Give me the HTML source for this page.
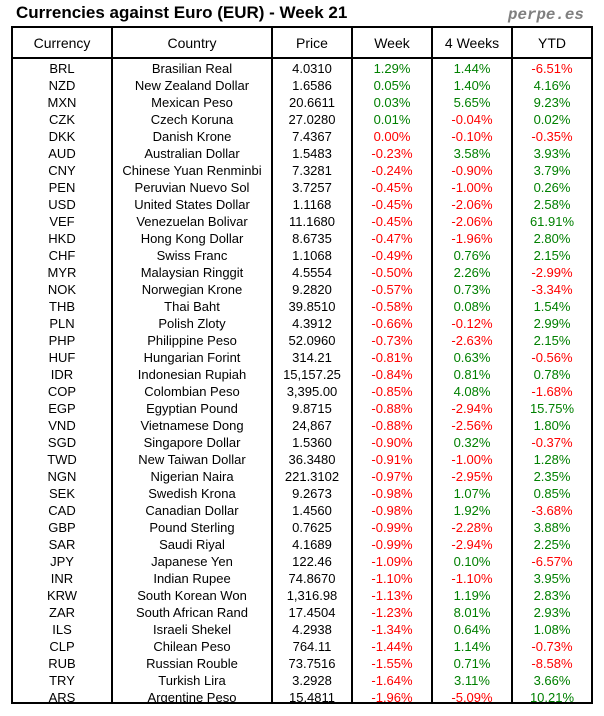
<!DOCTYPE html>
<html>
<head>
<meta charset="utf-8">
<style>
  html,body{margin:0;padding:0;background:#fff;}
  #c{position:relative;width:604px;height:716px;overflow:hidden;background:#fff;font-family:"Liberation Sans",Arial,sans-serif;color:#000;}
  .title{position:absolute;left:16px;top:3px;font-size:17px;font-weight:bold;line-height:20px;white-space:nowrap;}
  .brand{position:absolute;left:508px;top:4.5px;font-family:"Liberation Mono",monospace;font-weight:bold;font-style:italic;font-size:15.8px;line-height:20px;color:#7f7f7f;white-space:nowrap;}
  .ln{position:absolute;background:#000;z-index:5;}
  .hdr{position:absolute;top:28.7px;left:0;width:604px;height:29px;line-height:29px;font-size:14px;}
  .hdr span,.r span{position:absolute;top:0;text-align:center;white-space:nowrap;}
  .c1{left:13px;width:98px}
  .c2{left:113px;width:158px}
  .c3{left:273px;width:78px}
  .c4{left:353px;width:78px}
  .c5{left:433px;width:78px}
  .c6{left:513px;width:78px}
  #rows{position:absolute;left:0;top:59.6px;width:604px;}
  .r{position:relative;height:17px;line-height:17px;font-size:13px;}
  .g{color:#008000}
  .n{color:#ff0000}
</style>
</head>
<body>
<div id="c">
  <div class="title">Currencies against Euro (EUR) - Week 21</div>
  <div class="brand">perpe.es</div>

  <!-- borders -->
  <div class="ln" style="left:11px;top:26px;width:582px;height:2px"></div>
  <div class="ln" style="left:11px;top:702px;width:582px;height:2px"></div>
  <div class="ln" style="left:11px;top:57px;width:582px;height:2px"></div>
  <div class="ln" style="left:11px;top:26px;width:2px;height:678px"></div>
  <div class="ln" style="left:591px;top:26px;width:2px;height:678px"></div>
  <div class="ln" style="left:111px;top:26px;width:2px;height:678px"></div>
  <div class="ln" style="left:271px;top:26px;width:2px;height:678px"></div>
  <div class="ln" style="left:351px;top:26px;width:2px;height:678px"></div>
  <div class="ln" style="left:431px;top:26px;width:2px;height:678px"></div>
  <div class="ln" style="left:511px;top:26px;width:2px;height:678px"></div>
  <div class="ln" style="left:0;top:704px;width:604px;height:12px;background:#fff"></div>

  <div class="hdr">
    <span class="c1">Currency</span><span class="c2">Country</span><span class="c3">Price</span><span class="c4">Week</span><span class="c5">4 Weeks</span><span class="c6">YTD</span>
  </div>

  <div id="rows">
    <div class="r"><span class="c1">BRL</span><span class="c2">Brasilian Real</span><span class="c3">4.0310</span><span class="c4 g">1.29%</span><span class="c5 g">1.44%</span><span class="c6 n">-6.51%</span></div>
    <div class="r"><span class="c1">NZD</span><span class="c2">New Zealand Dollar</span><span class="c3">1.6586</span><span class="c4 g">0.05%</span><span class="c5 g">1.40%</span><span class="c6 g">4.16%</span></div>
    <div class="r"><span class="c1">MXN</span><span class="c2">Mexican Peso</span><span class="c3">20.6611</span><span class="c4 g">0.03%</span><span class="c5 g">5.65%</span><span class="c6 g">9.23%</span></div>
    <div class="r"><span class="c1">CZK</span><span class="c2">Czech Koruna</span><span class="c3">27.0280</span><span class="c4 g">0.01%</span><span class="c5 n">-0.04%</span><span class="c6 g">0.02%</span></div>
    <div class="r"><span class="c1">DKK</span><span class="c2">Danish Krone</span><span class="c3">7.4367</span><span class="c4 n">0.00%</span><span class="c5 n">-0.10%</span><span class="c6 n">-0.35%</span></div>
    <div class="r"><span class="c1">AUD</span><span class="c2">Australian Dollar</span><span class="c3">1.5483</span><span class="c4 n">-0.23%</span><span class="c5 g">3.58%</span><span class="c6 g">3.93%</span></div>
    <div class="r"><span class="c1">CNY</span><span class="c2">Chinese Yuan Renminbi</span><span class="c3">7.3281</span><span class="c4 n">-0.24%</span><span class="c5 n">-0.90%</span><span class="c6 g">3.79%</span></div>
    <div class="r"><span class="c1">PEN</span><span class="c2">Peruvian Nuevo Sol</span><span class="c3">3.7257</span><span class="c4 n">-0.45%</span><span class="c5 n">-1.00%</span><span class="c6 g">0.26%</span></div>
    <div class="r"><span class="c1">USD</span><span class="c2">United States Dollar</span><span class="c3">1.1168</span><span class="c4 n">-0.45%</span><span class="c5 n">-2.06%</span><span class="c6 g">2.58%</span></div>
    <div class="r"><span class="c1">VEF</span><span class="c2">Venezuelan Bolivar</span><span class="c3">11.1680</span><span class="c4 n">-0.45%</span><span class="c5 n">-2.06%</span><span class="c6 g">61.91%</span></div>
    <div class="r"><span class="c1">HKD</span><span class="c2">Hong Kong Dollar</span><span class="c3">8.6735</span><span class="c4 n">-0.47%</span><span class="c5 n">-1.96%</span><span class="c6 g">2.80%</span></div>
    <div class="r"><span class="c1">CHF</span><span class="c2">Swiss Franc</span><span class="c3">1.1068</span><span class="c4 n">-0.49%</span><span class="c5 g">0.76%</span><span class="c6 g">2.15%</span></div>
    <div class="r"><span class="c1">MYR</span><span class="c2">Malaysian Ringgit</span><span class="c3">4.5554</span><span class="c4 n">-0.50%</span><span class="c5 g">2.26%</span><span class="c6 n">-2.99%</span></div>
    <div class="r"><span class="c1">NOK</span><span class="c2">Norwegian Krone</span><span class="c3">9.2820</span><span class="c4 n">-0.57%</span><span class="c5 g">0.73%</span><span class="c6 n">-3.34%</span></div>
    <div class="r"><span class="c1">THB</span><span class="c2">Thai Baht</span><span class="c3">39.8510</span><span class="c4 n">-0.58%</span><span class="c5 g">0.08%</span><span class="c6 g">1.54%</span></div>
    <div class="r"><span class="c1">PLN</span><span class="c2">Polish Zloty</span><span class="c3">4.3912</span><span class="c4 n">-0.66%</span><span class="c5 n">-0.12%</span><span class="c6 g">2.99%</span></div>
    <div class="r"><span class="c1">PHP</span><span class="c2">Philippine Peso</span><span class="c3">52.0960</span><span class="c4 n">-0.73%</span><span class="c5 n">-2.63%</span><span class="c6 g">2.15%</span></div>
    <div class="r"><span class="c1">HUF</span><span class="c2">Hungarian Forint</span><span class="c3">314.21</span><span class="c4 n">-0.81%</span><span class="c5 g">0.63%</span><span class="c6 n">-0.56%</span></div>
    <div class="r"><span class="c1">IDR</span><span class="c2">Indonesian Rupiah</span><span class="c3">15,157.25</span><span class="c4 n">-0.84%</span><span class="c5 g">0.81%</span><span class="c6 g">0.78%</span></div>
    <div class="r"><span class="c1">COP</span><span class="c2">Colombian Peso</span><span class="c3">3,395.00</span><span class="c4 n">-0.85%</span><span class="c5 g">4.08%</span><span class="c6 n">-1.68%</span></div>
    <div class="r"><span class="c1">EGP</span><span class="c2">Egyptian Pound</span><span class="c3">9.8715</span><span class="c4 n">-0.88%</span><span class="c5 n">-2.94%</span><span class="c6 g">15.75%</span></div>
    <div class="r"><span class="c1">VND</span><span class="c2">Vietnamese Dong</span><span class="c3">24,867</span><span class="c4 n">-0.88%</span><span class="c5 n">-2.56%</span><span class="c6 g">1.80%</span></div>
    <div class="r"><span class="c1">SGD</span><span class="c2">Singapore Dollar</span><span class="c3">1.5360</span><span class="c4 n">-0.90%</span><span class="c5 g">0.32%</span><span class="c6 n">-0.37%</span></div>
    <div class="r"><span class="c1">TWD</span><span class="c2">New Taiwan Dollar</span><span class="c3">36.3480</span><span class="c4 n">-0.91%</span><span class="c5 n">-1.00%</span><span class="c6 g">1.28%</span></div>
    <div class="r"><span class="c1">NGN</span><span class="c2">Nigerian Naira</span><span class="c3">221.3102</span><span class="c4 n">-0.97%</span><span class="c5 n">-2.95%</span><span class="c6 g">2.35%</span></div>
    <div class="r"><span class="c1">SEK</span><span class="c2">Swedish Krona</span><span class="c3">9.2673</span><span class="c4 n">-0.98%</span><span class="c5 g">1.07%</span><span class="c6 g">0.85%</span></div>
    <div class="r"><span class="c1">CAD</span><span class="c2">Canadian Dollar</span><span class="c3">1.4560</span><span class="c4 n">-0.98%</span><span class="c5 g">1.92%</span><span class="c6 n">-3.68%</span></div>
    <div class="r"><span class="c1">GBP</span><span class="c2">Pound Sterling</span><span class="c3">0.7625</span><span class="c4 n">-0.99%</span><span class="c5 n">-2.28%</span><span class="c6 g">3.88%</span></div>
    <div class="r"><span class="c1">SAR</span><span class="c2">Saudi Riyal</span><span class="c3">4.1689</span><span class="c4 n">-0.99%</span><span class="c5 n">-2.94%</span><span class="c6 g">2.25%</span></div>
    <div class="r"><span class="c1">JPY</span><span class="c2">Japanese Yen</span><span class="c3">122.46</span><span class="c4 n">-1.09%</span><span class="c5 g">0.10%</span><span class="c6 n">-6.57%</span></div>
    <div class="r"><span class="c1">INR</span><span class="c2">Indian Rupee</span><span class="c3">74.8670</span><span class="c4 n">-1.10%</span><span class="c5 n">-1.10%</span><span class="c6 g">3.95%</span></div>
    <div class="r"><span class="c1">KRW</span><span class="c2">South Korean Won</span><span class="c3">1,316.98</span><span class="c4 n">-1.13%</span><span class="c5 g">1.19%</span><span class="c6 g">2.83%</span></div>
    <div class="r"><span class="c1">ZAR</span><span class="c2">South African Rand</span><span class="c3">17.4504</span><span class="c4 n">-1.23%</span><span class="c5 g">8.01%</span><span class="c6 g">2.93%</span></div>
    <div class="r"><span class="c1">ILS</span><span class="c2">Israeli Shekel</span><span class="c3">4.2938</span><span class="c4 n">-1.34%</span><span class="c5 g">0.64%</span><span class="c6 g">1.08%</span></div>
    <div class="r"><span class="c1">CLP</span><span class="c2">Chilean Peso</span><span class="c3">764.11</span><span class="c4 n">-1.44%</span><span class="c5 g">1.14%</span><span class="c6 n">-0.73%</span></div>
    <div class="r"><span class="c1">RUB</span><span class="c2">Russian Rouble</span><span class="c3">73.7516</span><span class="c4 n">-1.55%</span><span class="c5 g">0.71%</span><span class="c6 n">-8.58%</span></div>
    <div class="r"><span class="c1">TRY</span><span class="c2">Turkish Lira</span><span class="c3">3.2928</span><span class="c4 n">-1.64%</span><span class="c5 g">3.11%</span><span class="c6 g">3.66%</span></div>
    <div class="r"><span class="c1">ARS</span><span class="c2">Argentine Peso</span><span class="c3">15.4811</span><span class="c4 n">-1.96%</span><span class="c5 n">-5.09%</span><span class="c6 g">10.21%</span></div>
  </div>
</div>
</body>
</html>
